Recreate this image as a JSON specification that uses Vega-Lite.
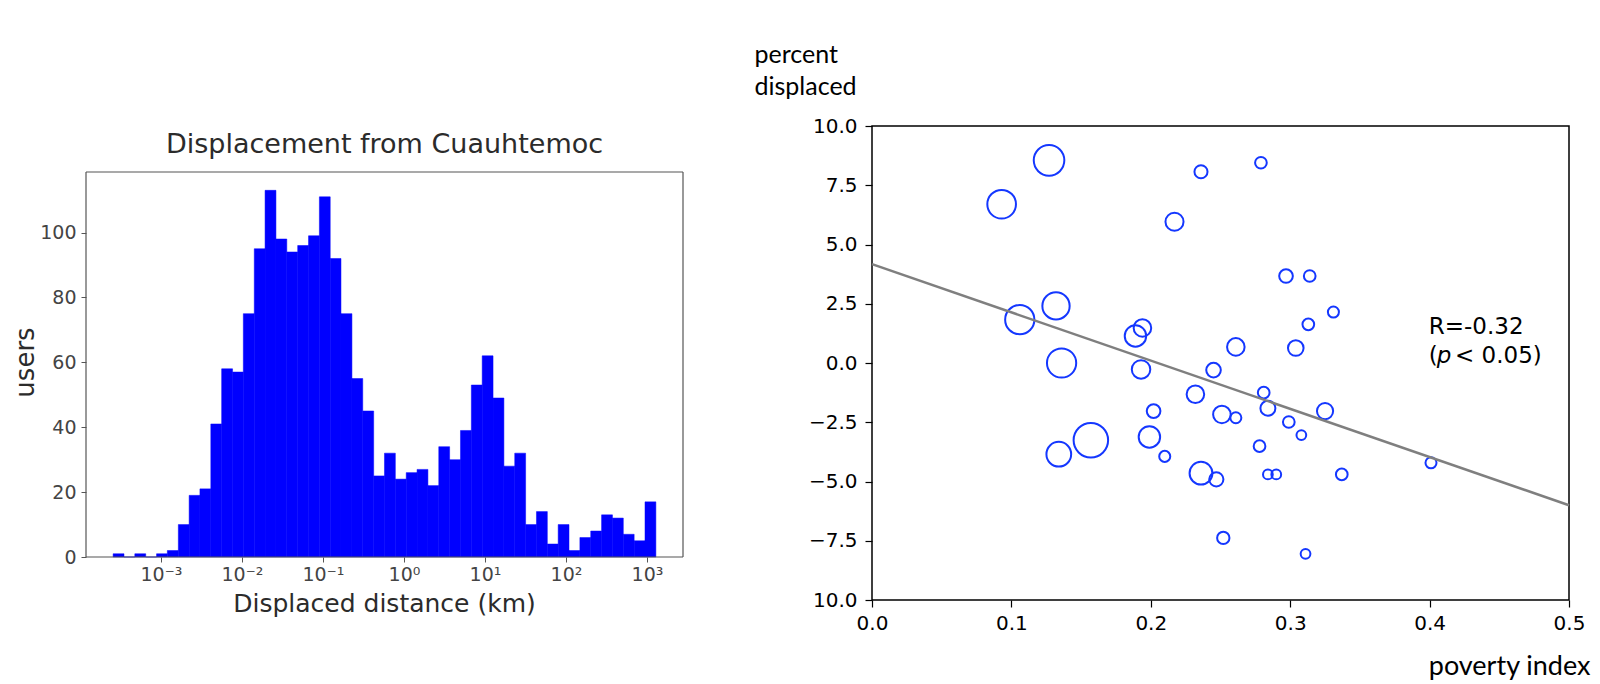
{
  "$schema": "https://vega.github.io/schema/vega-lite/v6.json",
  "background": "white",
  "padding": {"left": 12, "top": 41, "right": 0, "bottom": 0},
  "spacing": 69,
  "hconcat": [
    {
      "width": 597,
      "height": 431,
      "view": {"stroke": null},
      "layer": [
        {
          "data": {
            "values": [
              {"lo": 0.000257, "hi": 0.000350, "n": 1},
              {"lo": 0.000350, "hi": 0.000476, "n": 0},
              {"lo": 0.000476, "hi": 0.000649, "n": 1},
              {"lo": 0.000649, "hi": 0.000883, "n": 0},
              {"lo": 0.000883, "hi": 0.00120, "n": 1},
              {"lo": 0.00120, "hi": 0.00164, "n": 2},
              {"lo": 0.00164, "hi": 0.00223, "n": 10},
              {"lo": 0.00223, "hi": 0.00303, "n": 19},
              {"lo": 0.00303, "hi": 0.00413, "n": 21},
              {"lo": 0.00413, "hi": 0.00562, "n": 41},
              {"lo": 0.00562, "hi": 0.00766, "n": 58},
              {"lo": 0.00766, "hi": 0.0104, "n": 57},
              {"lo": 0.0104, "hi": 0.0142, "n": 75},
              {"lo": 0.0142, "hi": 0.0193, "n": 95},
              {"lo": 0.0193, "hi": 0.0263, "n": 113},
              {"lo": 0.0263, "hi": 0.0358, "n": 98},
              {"lo": 0.0358, "hi": 0.0488, "n": 94},
              {"lo": 0.0488, "hi": 0.0664, "n": 96},
              {"lo": 0.0664, "hi": 0.0904, "n": 99},
              {"lo": 0.0904, "hi": 0.123, "n": 111},
              {"lo": 0.123, "hi": 0.167, "n": 92},
              {"lo": 0.167, "hi": 0.228, "n": 75},
              {"lo": 0.228, "hi": 0.310, "n": 55},
              {"lo": 0.310, "hi": 0.423, "n": 45},
              {"lo": 0.423, "hi": 0.575, "n": 25},
              {"lo": 0.575, "hi": 0.783, "n": 32},
              {"lo": 0.783, "hi": 1.067, "n": 24},
              {"lo": 1.067, "hi": 1.452, "n": 26},
              {"lo": 1.452, "hi": 1.977, "n": 27},
              {"lo": 1.977, "hi": 2.692, "n": 22},
              {"lo": 2.692, "hi": 3.664, "n": 34},
              {"lo": 3.664, "hi": 4.989, "n": 30},
              {"lo": 4.989, "hi": 6.792, "n": 39},
              {"lo": 6.792, "hi": 9.247, "n": 53},
              {"lo": 9.247, "hi": 12.589, "n": 62},
              {"lo": 12.589, "hi": 17.14, "n": 49},
              {"lo": 17.14, "hi": 23.33, "n": 28},
              {"lo": 23.33, "hi": 31.77, "n": 32},
              {"lo": 31.77, "hi": 43.25, "n": 10},
              {"lo": 43.25, "hi": 58.88, "n": 14},
              {"lo": 58.88, "hi": 80.17, "n": 4},
              {"lo": 80.17, "hi": 109.1, "n": 10},
              {"lo": 109.1, "hi": 148.6, "n": 2},
              {"lo": 148.6, "hi": 202.3, "n": 6},
              {"lo": 202.3, "hi": 275.4, "n": 8},
              {"lo": 275.4, "hi": 375.0, "n": 13},
              {"lo": 375.0, "hi": 510.5, "n": 12},
              {"lo": 510.5, "hi": 695.0, "n": 7},
              {"lo": 695.0, "hi": 946.2, "n": 5},
              {"lo": 946.2, "hi": 1288.2, "n": 17}
            ]
          },
          "mark": {"type": "rect", "color": "#0000ff", "stroke": "#0000ff", "strokeWidth": 0.5},
          "encoding": {
            "x": {
              "field": "lo",
              "type": "quantitative",
              "scale": {"type": "log", "domain": [0.00011885, 2786], "nice": false},
              "axis": {
                "values": [0.001, 0.01, 0.1, 1, 10, 100, 1000],
                "labelExpr": "'10' + ['⁻³','⁻²','⁻¹','⁰','¹','²','³'][round(log(datum.value) / LN10) + 3]",
                "labelFont": "DejaVu Sans",
                "labelFontSize": 19,
                "labelColor": "#444444",
                "labelPadding": 3,
                "labelFlush": false,
                "tickColor": "#555555",
                "tickSize": 5,
                "domain": false,
                "grid": false,
                "title": "Displaced distance (km)",
                "titleFont": "DejaVu Sans",
                "titleFontSize": 25,
                "titleFontWeight": "normal",
                "titleColor": "#2b2b2b",
                "titleAlign": "center",
                "titleBaseline": "alphabetic",
                "titleX": 298,
                "titleY": 54
              }
            },
            "x2": {"field": "hi"},
            "y": {
              "field": "n",
              "type": "quantitative",
              "scale": {"domain": [0, 132.83], "nice": false},
              "axis": {
                "values": [0, 20, 40, 60, 80, 100],
                "labelFont": "DejaVu Sans",
                "labelFontSize": 19,
                "labelColor": "#444444",
                "labelPadding": 5,
                "tickColor": "#555555",
                "tickSize": 5,
                "domain": false,
                "grid": false,
                "title": "users",
                "titleFont": "DejaVu Sans",
                "titleFontSize": 26,
                "titleFontWeight": "normal",
                "titleColor": "#2b2b2b",
                "titleAngle": 270,
                "titleAlign": "center",
                "titleBaseline": "middle",
                "titleX": -61,
                "titleY": 236
              }
            },
            "y2": {"datum": 0}
          }
        },
        {
          "data": {"values": [{}]},
          "mark": {"type": "rule", "color": "#555555", "strokeWidth": 1.2},
          "encoding": {"x": {"datum": 0.00011885}, "x2": {"datum": 2786}, "y": {"datum": 0}}
        },
        {
          "data": {"values": [{}]},
          "mark": {"type": "rule", "color": "#555555", "strokeWidth": 1.2},
          "encoding": {"x": {"datum": 0.00011885}, "x2": {"datum": 2786}, "y": {"datum": 118.65}}
        },
        {
          "data": {"values": [{}]},
          "mark": {"type": "rule", "color": "#555555", "strokeWidth": 1.2},
          "encoding": {"x": {"datum": 0.00011885}, "y": {"datum": 0}, "y2": {"datum": 118.65}}
        },
        {
          "data": {"values": [{}]},
          "mark": {"type": "rule", "color": "#555555", "strokeWidth": 1.2},
          "encoding": {"x": {"datum": 2786}, "y": {"datum": 0}, "y2": {"datum": 118.65}}
        },
        {
          "data": {"values": [{}]},
          "mark": {"type": "text", "text": "Displacement from Cuauhtemoc", "font": "DejaVu Sans", "fontSize": 27, "color": "#2b2b2b", "align": "center", "baseline": "alphabetic"},
          "encoding": {"x": {"datum": 0.5754}, "y": {"datum": 124.6}}
        }
      ]
    },
    {
      "width": 697,
      "height": 474,
      "view": {"stroke": "#000000", "strokeWidth": 1.5},
      "layer": [
        {
          "data": {
            "values": [
              {"pov": 0.127, "pct": 8.55, "w": 246},
              {"pov": 0.093, "pct": 6.70, "w": 216},
              {"pov": 0.236, "pct": 8.07, "w": 45},
              {"pov": 0.217, "pct": 5.96, "w": 86},
              {"pov": 0.132, "pct": 2.41, "w": 196},
              {"pov": 0.106, "pct": 1.83, "w": 225},
              {"pov": 0.189, "pct": 1.14, "w": 121},
              {"pov": 0.194, "pct": 1.48, "w": 81},
              {"pov": 0.136, "pct": 0.00, "w": 225},
              {"pov": 0.193, "pct": -0.27, "w": 90},
              {"pov": 0.232, "pct": -1.32, "w": 81},
              {"pov": 0.202, "pct": -2.03, "w": 49},
              {"pov": 0.199, "pct": -3.12, "w": 121},
              {"pov": 0.157, "pct": -3.26, "w": 313},
              {"pov": 0.134, "pct": -3.85, "w": 161},
              {"pov": 0.210, "pct": -3.94, "w": 32},
              {"pov": 0.279, "pct": 8.45, "w": 36},
              {"pov": 0.297, "pct": 3.67, "w": 49},
              {"pov": 0.314, "pct": 3.67, "w": 36},
              {"pov": 0.331, "pct": 2.15, "w": 32},
              {"pov": 0.313, "pct": 1.63, "w": 36},
              {"pov": 0.261, "pct": 0.68, "w": 81},
              {"pov": 0.304, "pct": 0.63, "w": 64},
              {"pov": 0.245, "pct": -0.30, "w": 56},
              {"pov": 0.281, "pct": -1.25, "w": 36},
              {"pov": 0.284, "pct": -1.91, "w": 59},
              {"pov": 0.251, "pct": -2.17, "w": 81},
              {"pov": 0.261, "pct": -2.31, "w": 32},
              {"pov": 0.325, "pct": -2.03, "w": 69},
              {"pov": 0.299, "pct": -2.49, "w": 36},
              {"pov": 0.308, "pct": -3.04, "w": 25},
              {"pov": 0.278, "pct": -3.51, "w": 36},
              {"pov": 0.236, "pct": -4.65, "w": 137},
              {"pov": 0.247, "pct": -4.91, "w": 53},
              {"pov": 0.284, "pct": -4.70, "w": 25},
              {"pov": 0.290, "pct": -4.70, "w": 25},
              {"pov": 0.337, "pct": -4.70, "w": 36},
              {"pov": 0.401, "pct": -4.21, "w": 32},
              {"pov": 0.252, "pct": -7.38, "w": 40},
              {"pov": 0.311, "pct": -8.05, "w": 25}
            ]
          },
          "mark": {"type": "point", "shape": "circle", "filled": false, "stroke": "#1437ff", "strokeWidth": 2, "opacity": 1},
          "encoding": {
            "x": {
              "field": "pov",
              "type": "quantitative",
              "scale": {"domain": [0, 0.5], "nice": false, "zero": false},
              "axis": {
                "values": [0, 0.1, 0.2, 0.3, 0.4, 0.5],
                "format": ".1f",
                "labelFont": "DejaVu Sans",
                "labelFontSize": 20,
                "labelColor": "#000000",
                "labelPadding": 6,
                "labelFlush": false,
                "tickColor": "#000000",
                "tickSize": 7,
                "tickWidth": 1.2,
                "domain": false,
                "grid": false,
                "title": "poverty index",
                "titleFont": "Lato",
                "titleFontSize": 27,
                "titleFontWeight": "normal",
                "titleColor": "#000000",
                "titleAlign": "right",
                "titleBaseline": "alphabetic",
                "titleX": 718,
                "titleY": 74
              }
            },
            "y": {
              "field": "pct",
              "type": "quantitative",
              "scale": {"domain": [-10, 10], "nice": false, "zero": false},
              "axis": {
                "values": [-10, -7.5, -5, -2.5, 0, 2.5, 5, 7.5, 10],
                "labelExpr": "datum.value == -10 ? '10.0' : format(datum.value, '.1f')",
                "labelFont": "DejaVu Sans",
                "labelFontSize": 20,
                "labelColor": "#000000",
                "labelPadding": 8,
                "tickColor": "#000000",
                "tickSize": 7,
                "tickWidth": 1.2,
                "domain": false,
                "grid": false,
                "title": ["percent", "displaced"],
                "titleFont": "Lato",
                "titleFontSize": 25,
                "titleFontWeight": "normal",
                "titleColor": "#000000",
                "titleAngle": 0,
                "titleAlign": "left",
                "titleBaseline": "alphabetic",
                "titleLineHeight": 32,
                "titleX": -118,
                "titleY": -64
              }
            },
            "size": {
              "field": "w",
              "type": "quantitative",
              "scale": {"domain": [0, 100], "range": [0, 380]},
              "legend": null
            }
          }
        },
        {
          "data": {"values": [{"pov": 0, "pct": 4.17}, {"pov": 0.5, "pct": -6.0}]},
          "mark": {"type": "line", "color": "#7f7f7f", "strokeWidth": 2.5},
          "encoding": {
            "x": {"field": "pov", "type": "quantitative"},
            "y": {"field": "pct", "type": "quantitative"}
          }
        },
        {
          "data": {"values": [{}]},
          "mark": {"type": "text", "text": "R=-0.32", "font": "DejaVu Sans", "fontSize": 23, "color": "#000000", "align": "left", "baseline": "alphabetic"},
          "encoding": {"x": {"datum": 0.3994}, "y": {"datum": 1.24}}
        },
        {
          "data": {"values": [{}]},
          "mark": {"type": "text", "text": "(", "font": "DejaVu Sans", "fontSize": 23, "color": "#000000", "align": "left", "baseline": "alphabetic"},
          "encoding": {"x": {"datum": 0.3994}, "y": {"datum": 0.01}}
        },
        {
          "data": {"values": [{}]},
          "mark": {"type": "text", "text": "p", "font": "DejaVu Sans", "fontSize": 23, "fontStyle": "italic", "color": "#000000", "align": "left", "baseline": "alphabetic"},
          "encoding": {"x": {"datum": 0.4052}, "y": {"datum": 0.01}}
        },
        {
          "data": {"values": [{}]},
          "mark": {"type": "text", "text": "< 0.05)", "font": "DejaVu Sans", "fontSize": 23, "color": "#000000", "align": "left", "baseline": "alphabetic"},
          "encoding": {"x": {"datum": 0.4182}, "y": {"datum": 0.01}}
        }
      ]
    }
  ]
}
